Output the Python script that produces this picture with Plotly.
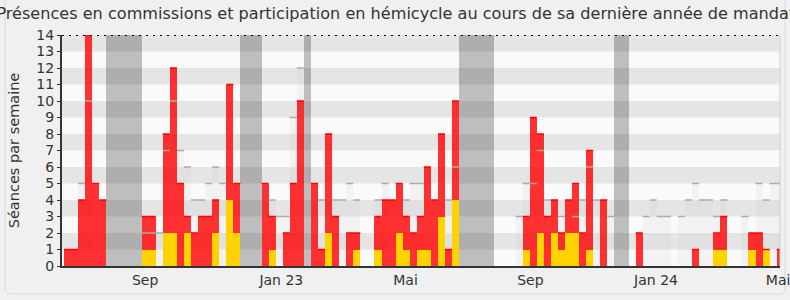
import plotly.graph_objects as go

# ---- data (one value per week) ----
weeks = list(range(102))
commission = [1, 1, 4, 14, 5, 4, 0, 0, 0, 0,
              0, 3, 3, 0, 8, 12, 5, 3, 2, 3,
              3, 4, 0, 11, 5, 0, 0, 0, 5, 3,
              0, 2, 5, 10, 0, 5, 1, 8, 3, 0,
              2, 2, 0, 0, 3, 4, 4, 5, 3, 2,
              3, 6, 4, 8, 1, 10, 0, 0, 0, 0,
              0, 0, 0, 0, 0, 3, 9, 8, 3, 4,
              2, 4, 5, 2, 7, 0, 4, 0, 0, 0,
              0, 2, 0, 0, 0, 0, 0, 0, 0, 1,
              0, 0, 2, 3, 0, 0, 0, 2, 2, 1,
              0, 1]
hemicycle = [0, 0, 0, 0, 0, 0, 0, 0, 0, 0,
             0, 1, 1, 0, 2, 2, 0, 2, 0, 0,
             0, 2, 0, 4, 2, 0, 0, 0, 0, 1,
             0, 0, 0, 0, 0, 0, 0, 2, 0, 0,
             0, 1, 0, 0, 1, 0, 0, 2, 1, 0,
             1, 1, 0, 3, 0, 4, 0, 0, 0, 0,
             0, 0, 0, 0, 0, 1, 0, 2, 0, 2,
             1, 2, 2, 0, 1, 0, 0, 0, 0, 0,
             0, 0, 0, 0, 0, 0, 0, 0, 0, 0,
             0, 0, 1, 1, 0, 0, 0, 1, 0, 1,
             0, 0]
mediane = [None, None, 5, 10, None, None, None, None, None, None,
           None, 2, 2, 2, 7, 10, 7, 6, 4, 4,
           5, 6, 5, None, None, None, None, None, None, 4,
           3, 3, 9, 12, None, None, 4, None, 4, 4,
           5, 4, None, None, 4, 5, None, None, 4, 5,
           5, None, None, None, 4, 6, None, None, None, None,
           None, None, None, None, 3, 5, 5, 7, 4, None,
           3, None, 3, 4, 6, 4, None, 3, None, None,
           None, None, 3, 4, 3, 3, None, 3, 4, 5,
           4, 4, 3, 4, None, None, 3, None, 5, 4,
           5, 5]
vacances = [6, 7, 8, 9, 10, 25, 26, 27, 34, 56, 57, 58, 59, 60, 78, 79]
tick_pos = [11, 30.3, 47.9, 65.6, 83.4, 100.7]
tick_labels = ["Sep", "Jan 23", "Mai", "Sep", "Jan 24", "Mai"]
y_max = 14

FONT = "DejaVu Sans"


def top_segments(xs, ys):
    sx, sy = [], []
    for x, y in zip(xs, ys):
        if y is None or y <= 0:
            continue
        sx += [x - 0.5, x + 0.5, None]
        sy += [y, y, None]
    return sx, sy


fig = go.Figure()

# vacation bands
fig.add_trace(go.Bar(x=vacances, y=[y_max] * len(vacances), width=1,
                     marker=dict(color="rgba(0,0,0,0.24)", line=dict(width=0)),
                     hoverinfo="skip"))
# median bars
fig.add_trace(go.Bar(x=weeks, y=mediane, width=1,
                     marker=dict(color="rgba(200,200,200,0.14)", line=dict(width=0)),
                     hoverinfo="skip"))
mx, my = top_segments(weeks, mediane)
fig.add_trace(go.Scatter(x=mx, y=my, mode="lines",
                         line=dict(color="#aaaaaa", width=1.5), hoverinfo="skip"))
# commission presence
fig.add_trace(go.Bar(x=weeks, y=commission, width=1,
                     marker=dict(color="rgba(255,0,0,0.8)", line=dict(width=0)),
                     hoverinfo="skip"))
rx, ry = top_segments(weeks, commission)
fig.add_trace(go.Scatter(x=rx, y=ry, mode="lines",
                         line=dict(color="#ff0000", width=1.5), hoverinfo="skip"))
# hemicycle participation
fig.add_trace(go.Bar(x=weeks, y=hemicycle, width=1,
                     marker=dict(color="#ffd200", line=dict(width=0)),
                     hoverinfo="skip"))

shapes = []
for k in range(1, y_max, 2):
    shapes.append(dict(type="rect", xref="paper", x0=0, x1=1, yref="y", y0=k, y1=k + 1,
                       fillcolor="#e5e5e5", line=dict(width=0), layer="below"))
shapes.append(dict(type="line", xref="paper", x0=0, x1=1, yref="y", y0=y_max, y1=y_max,
                   line=dict(color="#000000", width=2, dash="2px,5px")))
shapes.append(dict(type="line", xref="paper", x0=1, x1=1, yref="paper", y0=0, y1=1,
                   line=dict(color="#cfcfcf", width=1)))
# outer rounded frame (sides and bottom)
L, R, B, T = -0.0794, 1.0070, -0.1212, 1.1948
rx_, ry_ = 0.0084, 0.026
frame = (f"M {L},{T} L {L},{B + ry_} Q {L},{B} {L + rx_},{B} "
         f"L {R - rx_},{B} Q {R},{B} {R},{B + ry_} L {R},{T}")
shapes.append(dict(type="path", xref="paper", yref="paper", path=frame,
                   line=dict(color="#d9d9d9", width=1), layer="below"))

fig.update_layout(
    width=790, height=300,
    margin=dict(l=62, r=10, t=35, b=34, autoexpand=False),
    paper_bgcolor="#f0f0f0", plot_bgcolor="#fafafa",
    barmode="overlay", bargap=0, showlegend=False,
    title=dict(text="Présences en commissions et participation en hémicycle au cours de sa dernière année de mandat",
               x=0.501, xanchor="center", y=0.957, yanchor="middle", yref="container",
               font=dict(family=FONT, size=16.1, color="#333333")),
    font=dict(family=FONT, size=14, color="#333333"),
    shapes=shapes,
    xaxis=dict(range=[-0.78, 100.97], tickvals=tick_pos, ticktext=tick_labels,
               automargin=False, ticklabeloverflow="allow",
               showgrid=False, zeroline=False, showline=True, linecolor="#333333", linewidth=2,
               ticks="", tickfont=dict(family=FONT, size=14, color="#333333")),
    yaxis=dict(range=[0, y_max], dtick=1, tick0=0, showgrid=False, zeroline=False,
               automargin=False,
               showline=True, linecolor="#333333", linewidth=2,
               ticks="outside", ticklen=3, tickcolor="#333333",
               tickfont=dict(family=FONT, size=14, color="#333333"),
               title=dict(text="Séances par semaine", standoff=13,
                          font=dict(family=FONT, size=14.5, color="#333333"))),
)

fig.write_html("out.html")
